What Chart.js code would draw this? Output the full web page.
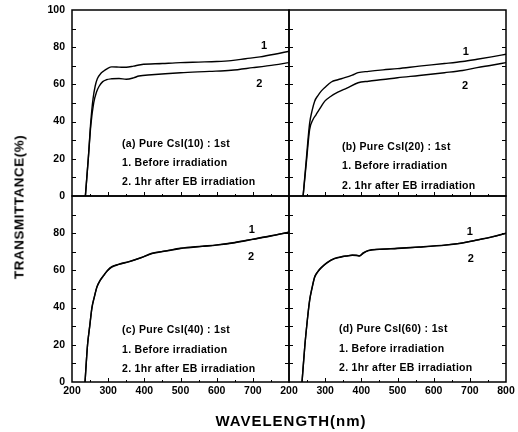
<!DOCTYPE html>
<html>
<head>
<meta charset="utf-8">
<script src="https://cdn.jsdelivr.net/npm/chart.js@4.4.1/dist/chart.umd.min.js"></script>
<style>
    body { margin: 0; background: #fff; }
    #wrap { position: relative; width: 518px; height: 432px; font-family: "Liberation Sans", Arial, sans-serif; }
    #wrap canvas { position: absolute; left: 0; top: 0; }
    .axis-title { position: absolute; font-weight: bold; color: #000; white-space: nowrap; }
    #ytitle { left: 19px; top: 207px; font-size: 13.5px; letter-spacing: 0.5px; transform: translate(-50%, -50%) rotate(-90deg); }
    #xtitle { left: 291px; top: 420px; font-size: 15px; letter-spacing: 1px; transform: translate(-50%, -50%); }
</style>
</head>
<body>
<div id="wrap">
    <canvas id="panel-a" width="518" height="432"></canvas>
    <canvas id="panel-b" width="518" height="432"></canvas>
    <canvas id="panel-c" width="518" height="432"></canvas>
    <canvas id="panel-d" width="518" height="432"></canvas>
    <div class="axis-title" id="ytitle">TRANSMITTANCE(%)</div>
    <div class="axis-title" id="xtitle">WAVELENGTH(nm)</div>
</div>
<script>
// tick labels
const yTickValues = [0, 20, 40, 60, 80, 100];
const xTickValues = [200, 300, 400, 500, 600, 700, 800];

// panel texts
const panelTitles = ['(a) Pure CsI(10) : 1st', '(b) Pure CsI(20) : 1st', '(c) Pure CsI(40) : 1st', '(d) Pure CsI(60) : 1st'];
const noteLines = ['1. Before irradiation', '2. 1hr after EB irradiation'];

// (a) CsI(10)
const waveA1 = [237, 245, 252, 258, 264, 270, 280, 290, 300, 310, 330, 350, 370, 390, 450, 500, 550, 600, 640, 680, 720, 760, 800];
const transA1 = [0, 20, 40, 52, 59, 63, 66, 67.5, 68.8, 69.4, 69.3, 69.2, 69.8, 70.6, 71.2, 71.7, 72, 72.3, 72.8, 73.8, 74.8, 76.2, 77.8];
const waveA2 = [237, 245, 252, 260, 268, 275, 285, 295, 310, 330, 350, 370, 385, 420, 500, 580, 640, 700, 760, 800];
const transA2 = [0, 20, 38, 50, 56, 59, 61.5, 62.5, 63, 63.2, 62.8, 63.5, 64.5, 65.2, 66.3, 67, 67.6, 69, 70.5, 71.7];

// (b) CsI(20)
const waveB1 = [239, 248, 257, 264, 271, 280, 289, 300, 317, 335, 354, 375, 391, 420, 460, 500, 560, 630, 680, 720, 760, 800];
const transB1 = [0, 20, 39, 46, 51, 54, 56.4, 58.5, 61.3, 62.5, 63.6, 65, 66.3, 67, 67.8, 68.5, 69.8, 71.2, 72.3, 73.5, 74.8, 76.2];
const waveB2 = [239, 248, 257, 266, 275, 287, 299, 315, 335, 360, 391, 420, 460, 500, 560, 630, 680, 720, 760, 800];
const transB2 = [0, 18, 35.7, 41, 43.8, 47.5, 51, 53.5, 55.8, 58, 60.9, 61.7, 62.6, 63.6, 64.8, 66.3, 67.5, 69, 70.3, 71.7];

// (c) CsI(40)
const waveC1 = [236, 243, 249, 255, 262, 269, 278, 288, 298, 310, 330, 357, 390, 421, 460, 500, 560, 600, 650, 700, 750, 800];
const transC1 = [0, 20, 30, 40, 46, 51.2, 54.8, 57.5, 60, 62, 63.4, 64.7, 66.8, 69.2, 70.5, 71.9, 73, 73.7, 75, 76.8, 78.6, 80.6];
const waveC2 = [236, 243, 249, 255, 262, 269, 278, 288, 298, 310, 330, 357, 390, 421, 460, 500, 560, 600, 650, 700, 750, 800];
const transC2 = [0, 20, 30, 39.6, 45.8, 51, 54.6, 57.3, 59.8, 61.8, 63.2, 64.6, 66.7, 69, 70.4, 71.8, 72.9, 73.6, 74.9, 76.7, 78.5, 80.5];

// (d) CsI(60)
const waveD1 = [236, 244, 250, 257, 264, 271, 280, 289, 305, 326, 345, 363, 375, 386, 395, 405, 420, 450, 500, 560, 634, 680, 717, 760, 800];
const transD1 = [0, 20, 32, 44, 51, 56.6, 59.5, 61.5, 64.2, 66.5, 67.4, 67.9, 68.3, 68.2, 67.9, 69.4, 70.8, 71.4, 71.9, 72.6, 73.7, 74.8, 76.3, 78, 80];
const waveD2 = [236, 244, 250, 257, 264, 271, 280, 289, 305, 326, 345, 363, 375, 386, 395, 405, 420, 450, 500, 560, 634, 680, 717, 760, 800];
const transD2 = [0, 20, 32, 43.6, 50.6, 56.3, 59.3, 61.3, 64, 66.3, 67.2, 67.8, 68.1, 68, 67.7, 69.2, 70.6, 71.3, 71.8, 72.5, 73.6, 74.7, 76.2, 77.9, 79.9];

const fontFamily = '"Liberation Sans", Arial, sans-serif';

function toPoints(wave, trans) {
    return wave.map((w, i) => ({ x: w, y: trans[i] }));
}

// frame, inward ticks and the in-panel texts
function makeDecor(info) {
    return {
        id: 'panelDecor',
        afterDraw(chart) {
            const ctx = chart.ctx;
            const area = chart.chartArea;
            const xs = chart.scales.x;
            const ys = chart.scales.y;
            ctx.save();
            ctx.strokeStyle = '#000';
            ctx.lineWidth = 1.5;
            ctx.strokeRect(area.left, area.top, area.right - area.left, area.bottom - area.top);

            ctx.lineWidth = 1;
            ctx.beginPath();
            for (let v = 10; v < 100; v += 10) {
                const py = Math.round(ys.getPixelForValue(v)) + 0.5;
                ctx.moveTo(area.left, py);
                ctx.lineTo(area.left + 4, py);
                ctx.moveTo(area.right, py);
                ctx.lineTo(area.right - 4, py);
            }
            for (let v = 250; v < 800; v += 50) {
                const px = Math.round(xs.getPixelForValue(v)) + 0.5;
                const len = v % 100 === 0 ? 4 : 2;
                ctx.moveTo(px, area.bottom);
                ctx.lineTo(px, area.bottom - len);
            }
            ctx.stroke();

            ctx.fillStyle = '#000';
            ctx.textBaseline = 'middle';
            ctx.textAlign = 'left';
            ctx.letterSpacing = '0.3px';
            ctx.font = 'bold 10.5px ' + fontFamily;
            [info.title].concat(noteLines).forEach((t, i) => {
                ctx.fillText(t, area.left + info.textX, area.top + info.textY[i]);
            });

            ctx.letterSpacing = '0px';
            ctx.font = 'bold 11px ' + fontFamily;
            ctx.textAlign = 'center';
            info.marks.forEach(m => {
                ctx.fillText(m.label, xs.getPixelForValue(m.x), ys.getPixelForValue(m.y));
            });
            ctx.restore();
        }
    };
}

function noPadding(s) {
    s.paddingTop = 0;
    s.paddingBottom = 0;
    s.paddingLeft = 0;
    s.paddingRight = 0;
}

function makePanel(id, box, series, info) {
    const tickFont = { family: fontFamily, size: 10.5, weight: 'bold' };
    const yWidth = info.showY ? 40 : 0;
    const xHeight = info.showX ? 20 : 0;
    const datasets = series.map(s => ({
        data: toPoints(s[0], s[1]),
        borderColor: '#000',
        borderWidth: 1.4,
        pointRadius: 0,
        fill: false,
        cubicInterpolationMode: 'monotone'
    }));

    return new Chart(document.getElementById(id), {
        type: 'line',
        data: { datasets: datasets },
        options: {
            responsive: false,
            animation: false,
            devicePixelRatio: 1,
            layout: { padding: { left: box[0] - yWidth, top: box[1], right: 518 - box[2], bottom: 432 - box[3] - xHeight } },
            plugins: { legend: { display: false }, tooltip: { enabled: false } },
            scales: {
                x: {
                    type: 'linear',
                    min: 200,
                    max: 800,
                    grid: { display: false, drawTicks: false },
                    border: { display: false },
                    afterBuildTicks: s => { s.ticks = xTickValues.map(v => ({ value: v })); },
                    afterFit: s => { s.height = xHeight; noPadding(s); },
                    ticks: {
                        display: info.showX,
                        autoSkip: false,
                        maxRotation: 0,
                        padding: 3,
                        color: '#000',
                        font: tickFont,
                        callback: v => (info.hideX.includes(v) ? '' : v)
                    }
                },
                y: {
                    type: 'linear',
                    min: 0,
                    max: 100,
                    grid: { display: false, drawTicks: false },
                    border: { display: false },
                    afterBuildTicks: s => { s.ticks = yTickValues.map(v => ({ value: v })); },
                    afterFit: s => { s.width = yWidth; noPadding(s); },
                    ticks: {
                        display: info.showY,
                        padding: 7,
                        color: '#000',
                        font: tickFont,
                        callback: v => (info.hideY.includes(v) ? '' : v)
                    }
                }
            }
        },
        plugins: [makeDecor(info)]
    });
}

makePanel('panel-a', [72, 10, 289, 196], [[waveA1, transA1], [waveA2, transA2]], {
    title: panelTitles[0], textX: 50, textY: [134, 153, 172],
    marks: [{ label: '1', x: 731, y: 80.4 }, { label: '2', x: 718, y: 60 }],
    showX: false, hideX: [], showY: true, hideY: []
});

makePanel('panel-b', [289, 10, 506, 196], [[waveB1, transB1], [waveB2, transB2]], {
    title: panelTitles[1], textX: 53, textY: [137, 156, 176],
    marks: [{ label: '1', x: 689, y: 77.5 }, { label: '2', x: 687, y: 59 }],
    showX: false, hideX: [], showY: false, hideY: []
});

makePanel('panel-c', [72, 196, 289, 382], [[waveC1, transC1], [waveC2, transC2]], {
    title: panelTitles[2], textX: 50, textY: [134, 154, 173],
    marks: [{ label: '1', x: 697, y: 81.7 }, { label: '2', x: 695, y: 67.4 }],
    showX: true, hideX: [800], showY: true, hideY: [100]
});

makePanel('panel-d', [289, 196, 506, 382], [[waveD1, transD1], [waveD2, transD2]], {
    title: panelTitles[3], textX: 50, textY: [133, 153, 172],
    marks: [{ label: '1', x: 700, y: 80.5 }, { label: '2', x: 703, y: 66 }],
    showX: true, hideX: [], showY: false, hideY: []
});
</script>
</body>
</html>
